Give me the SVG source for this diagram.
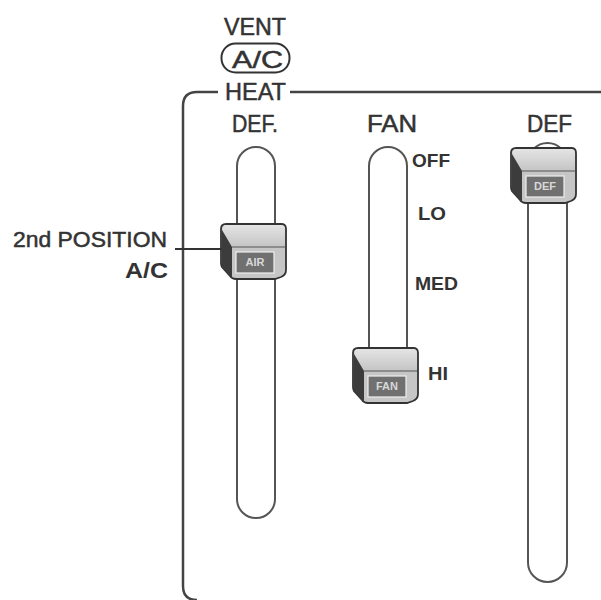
<svg xmlns="http://www.w3.org/2000/svg" width="601" height="600" viewBox="0 0 601 600">
<style>
.t{font-family:"Liberation Sans",Arial,sans-serif;fill:#333;stroke:#333;stroke-width:0.5}
.b{font-family:"Liberation Sans",Arial,sans-serif;font-weight:bold;fill:#333}
.track{fill:#fff;stroke:#555;stroke-width:2}
.frame{fill:none;stroke:#444;stroke-width:2.5}
.kl{font-family:"Liberation Sans",Arial,sans-serif;font-weight:bold;font-size:11px;fill:#d8d8d8}
</style>
<defs>
<linearGradient id="topg" x1="0" y1="0" x2="0" y2="1">
<stop offset="0" stop-color="#e4e4e4"/><stop offset="1" stop-color="#c4c4c4"/>
</linearGradient>
<g id="knob">
<path d="M5,0 H60 Q65,0 65,5 V46 Q65,51 60,53 L54,55 H15 Q11,55 9,52 L1,43 Q0,41 0,39 V5 Q0,0 5,0 Z" fill="#c6c6c6" stroke="#333" stroke-width="1.8"/>
<path d="M5,1 H60 Q64,1 64,5 V23 H11 L1.5,7 Q1,1 5,1 Z" fill="url(#topg)"/>
<path d="M1,6 L11,23 V54 Q10,54 9,52 L1,43 Z" fill="#3c3c3c"/>
<line x1="11" y1="23" x2="64" y2="23" stroke="#555" stroke-width="1.2"/>
<rect x="15" y="28" width="38" height="21" fill="#707070" stroke="#eee" stroke-width="1.2"/>
</g>
</defs>

<g id="frame">
<path class="frame" d="M218,92 H197 Q183,92 183,106 V586 Q183,600 197,600"/>
<path class="frame" d="M290,92 H601"/>
</g>

<g id="header">
<text class="t" x="255" y="35" font-size="23" text-anchor="middle" textLength="62" lengthAdjust="spacingAndGlyphs">VENT</text>
<rect x="221.5" y="43.5" width="68" height="29" rx="14" fill="none" stroke="#333" stroke-width="2"/>
<text class="t" x="257.5" y="68" font-size="24" text-anchor="middle" textLength="51" lengthAdjust="spacingAndGlyphs">A/C</text>
<text class="t" x="255.5" y="100" font-size="24" text-anchor="middle" textLength="61" lengthAdjust="spacingAndGlyphs">HEAT</text>
</g>

<g id="slider-heat">
<text class="t" x="255" y="132" font-size="23" text-anchor="middle" textLength="46" lengthAdjust="spacingAndGlyphs">DEF.</text>
<rect class="track" x="237" y="147" width="38" height="371" rx="19"/>
<use href="#knob" x="221" y="224"/>
<text class="kl" x="255" y="266" text-anchor="middle">AIR</text>
</g>

<g id="slider-fan">
<text class="t" x="392" y="132" font-size="23" text-anchor="middle" textLength="50" lengthAdjust="spacingAndGlyphs">FAN</text>
<rect class="track" x="369" y="147" width="38" height="230" rx="19"/>
<use href="#knob" x="353" y="348"/>
<text class="kl" x="387" y="390" text-anchor="middle">FAN</text>
<text class="b" x="412" y="167" font-size="18" textLength="38" lengthAdjust="spacingAndGlyphs">OFF</text>
<text class="b" x="418" y="220" font-size="18" textLength="28" lengthAdjust="spacingAndGlyphs">LO</text>
<text class="b" x="415" y="290" font-size="18" textLength="43" lengthAdjust="spacingAndGlyphs">MED</text>
<text class="b" x="428" y="380" font-size="18" textLength="20" lengthAdjust="spacingAndGlyphs">HI</text>
</g>

<g id="slider-def">
<text class="t" x="549.5" y="132" font-size="23" text-anchor="middle" textLength="45" lengthAdjust="spacingAndGlyphs">DEF</text>
<rect class="track" x="528" y="143" width="39" height="439" rx="19.5"/>
<use href="#knob" x="511" y="148"/>
<text class="kl" x="545" y="190" text-anchor="middle">DEF</text>
</g>

<g id="callout">
<text class="t" x="167" y="247" font-size="22" text-anchor="end" textLength="154" lengthAdjust="spacingAndGlyphs">2nd POSITION</text>
<text class="b" x="168" y="278" font-size="22" text-anchor="end" textLength="43" lengthAdjust="spacingAndGlyphs">A/C</text>
</g>

<g id="connectors">
<line x1="175" y1="249" x2="222" y2="249" stroke="#333" stroke-width="2"/>
</g>
</svg>
